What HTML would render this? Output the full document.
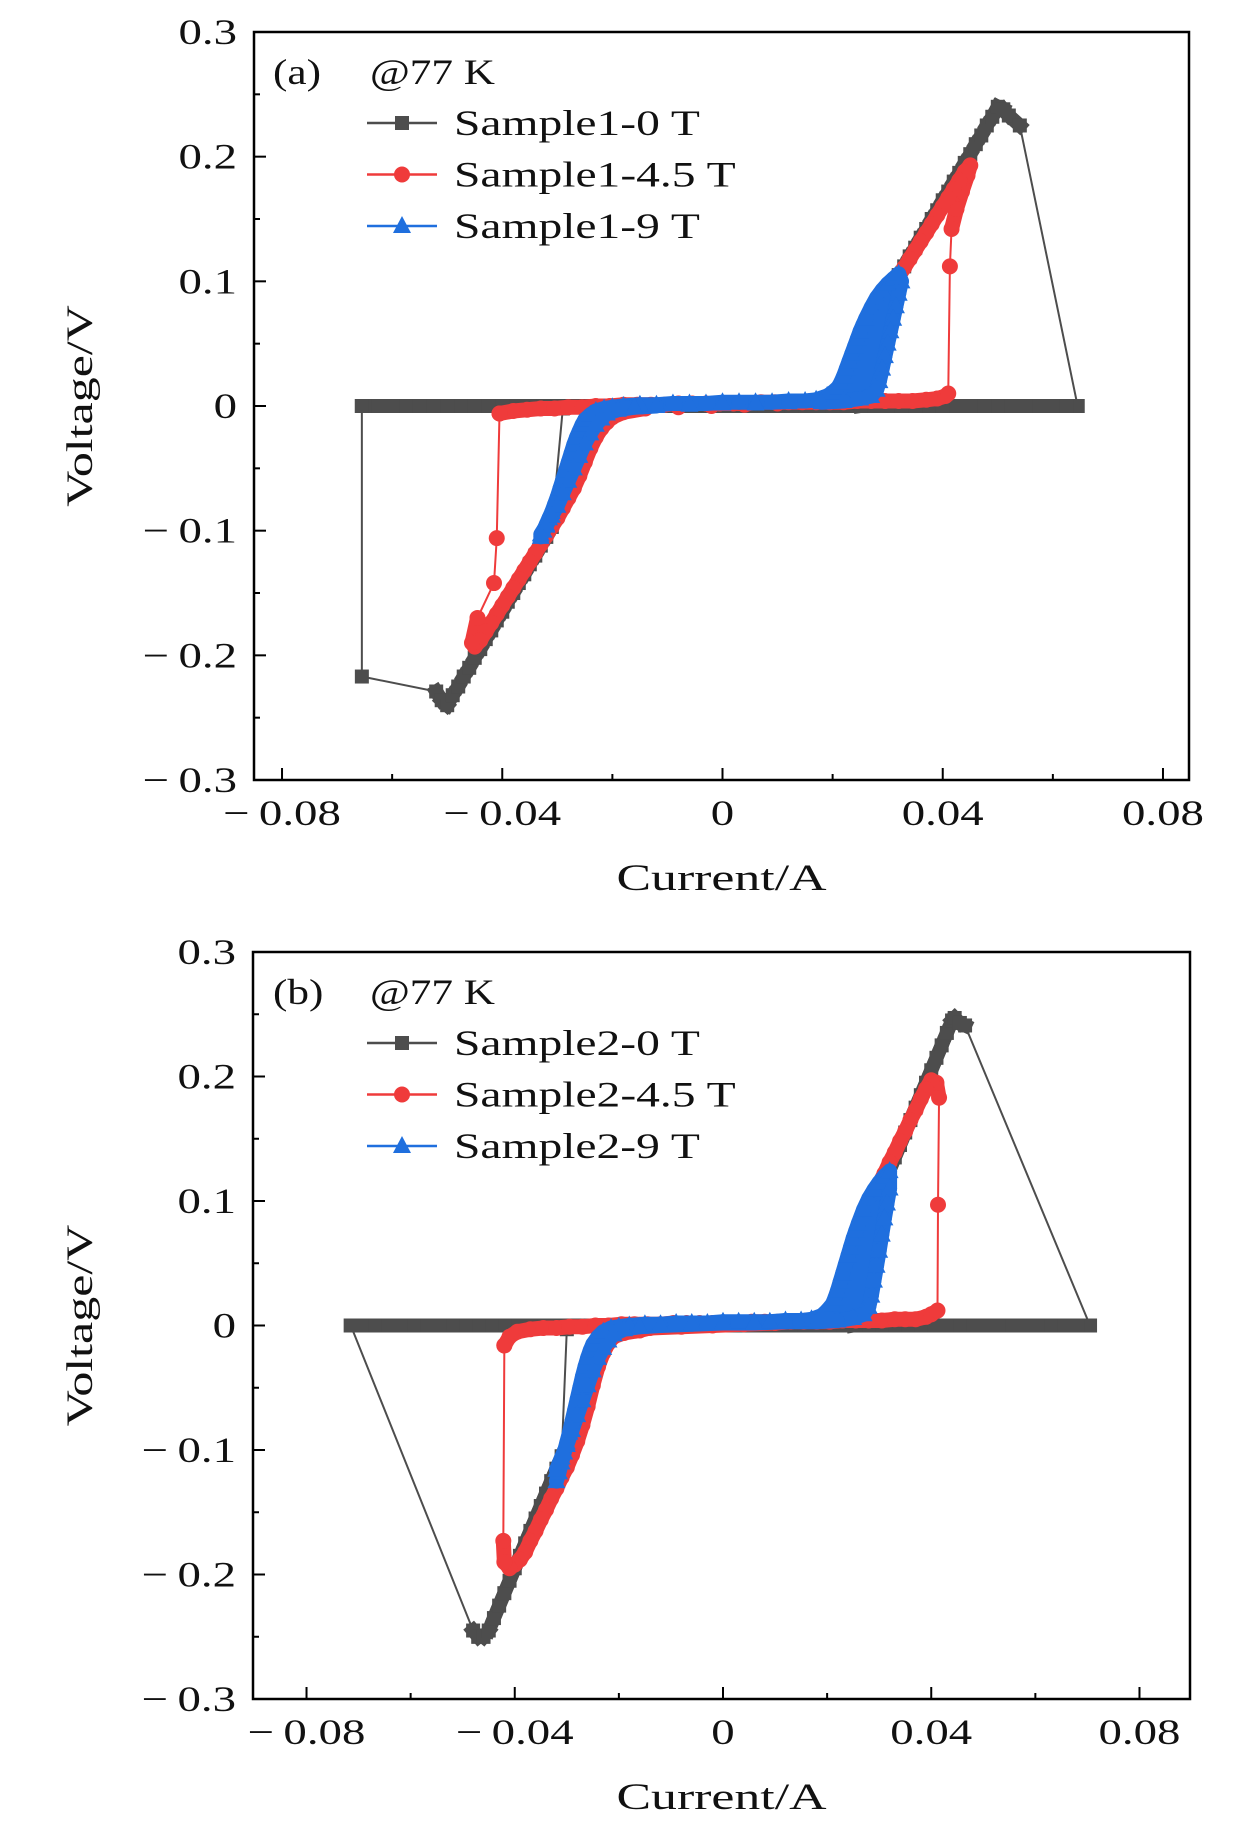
<!DOCTYPE html>
<html><head><meta charset="utf-8"><style>
html,body{margin:0;padding:0;background:#fff}
svg{display:block}
text{font-family:"Liberation Serif",serif;fill:#111}
</style></head><body>
<svg id="chart" width="1260" height="1827" viewBox="0 0 1260 1827" xmlns="http://www.w3.org/2000/svg"></svg>
<script>
const xTicks=[-0.08,-0.04,0,0.04,0.08];
const xTickLabels=["\u2212\u20090.08","\u2212\u20090.04","0","0.04","0.08"];
const xMinor=[-0.06,-0.02,0.02,0.06];
const yTicks=[-0.3,-0.2,-0.1,0,0.1,0.2,0.3];
const yTickLabels=["\u2212\u20090.3","\u2212\u20090.2","\u2212\u20090.1","0","0.1","0.2","0.3"];
const yMinor=[-0.25,-0.15,-0.05,0.05,0.15,0.25];
const legendA=["Sample1-0 T","Sample1-4.5 T","Sample1-9 T"];
const legendB=["Sample2-0 T","Sample2-4.5 T","Sample2-9 T"];

const s1_0T=[[-0.029,0],[-0.025,0],[-0.02,0],[-0.015,0],[-0.01,0],[-0.005,0],[0,0],[0.005,0],[0.01,0],[0.015,0],[0.02,0],[0.025,0],[0.028,0.002],
[0.030,0.09],[0.031,0.097],[0.032,0.105],[0.033,0.112],[0.034,0.12],[0.035,0.127],[0.036,0.135],[0.037,0.142],[0.038,0.15],[0.039,0.157],[0.040,0.165],[0.041,0.172],[0.042,0.18],[0.043,0.187],[0.044,0.195],[0.045,0.202],[0.046,0.21],[0.047,0.217],[0.048,0.225],[0.049,0.232],[0.050,0.24],[0.051,0.238],[0.052,0.233],[0.054,0.225],[0.0645,0],
[0.0625,0],[0.06,0],[0.0575,0],[0.055,0],[0.0525,0],[0.05,0],[0.0475,0],[0.045,0],[0.0425,0],[0.04,0],[0.0375,0],[0.035,0],[0.0325,0],[0.03,0],[0.0275,0],[0.025,0],[0.0225,0],[0.02,0],[0.0175,0],[0.015,0],[0.0125,0],[0.01,0],[0.0075,0],[0.005,0],[0.0025,0],[0,0],[-0.0025,0],[-0.005,0],[-0.0075,0],[-0.01,0],[-0.0125,0],[-0.015,0],[-0.0175,0],[-0.02,0],[-0.0225,0],[-0.025,0],[-0.0275,0],[-0.03,0],[-0.0325,0],[-0.035,0],[-0.0375,0],[-0.04,0],[-0.0425,0],[-0.045,0],[-0.0475,0],[-0.05,0],[-0.0525,0],[-0.055,0],[-0.0575,0],[-0.06,0],[-0.0625,0],[-0.0655,0],
[-0.0655,-0.217],[-0.052,-0.229],[-0.051,-0.236],[-0.050,-0.24],[-0.049,-0.232],[-0.048,-0.225],[-0.047,-0.217],[-0.046,-0.21],[-0.045,-0.202],[-0.044,-0.195],[-0.043,-0.187],[-0.042,-0.18],[-0.041,-0.172],[-0.040,-0.165],[-0.039,-0.157],[-0.038,-0.15],[-0.037,-0.142],[-0.036,-0.135],[-0.035,-0.127],[-0.034,-0.12],[-0.033,-0.112],[-0.032,-0.105],[-0.031,-0.097],[-0.029,-0.002]];

const s1_45T=[[-0.0405,-0.006],[-0.038,-0.004],[-0.0355,-0.003],[-0.033,-0.002],[-0.0305,-0.002],[-0.028,-0.001],[-0.0255,-0.001],[-0.023,0],[-0.0205,0],[-0.018,0.001],[-0.0155,0.001],[-0.013,0.001],[-0.0105,0.001],[-0.008,0.002],[-0.0055,0.002],[-0.003,0.002],[-0.0005,0.002],[0.002,0.002],[0.0045,0.002],[0.007,0.003],[0.0095,0.003],[0.012,0.003],[0.0145,0.003],[0.017,0.003],[0.0195,0.003],[0.022,0.003],[0.0245,0.004],[0.027,0.004],[0.0295,0.004],[0.032,0.004],[0.0345,0.004],[0.037,0.005],[0.039,0.006],[0.0405,0.008],[0.041,0.01],[0.0413,0.112],[0.0416,0.142],[0.0425,0.158],[0.0435,0.172],[0.0445,0.185],[0.045,0.193],
[0.044,0.188],[0.043,0.181],[0.042,0.174],[0.041,0.167],[0.040,0.16],[0.039,0.153],[0.038,0.146],[0.037,0.139],[0.036,0.132],[0.035,0.125],[0.034,0.118],[0.033,0.111],[0.032,0.104],[0.031,0.097],[0.030,0.09],[0.029,0.082],[0.028,0.074],[0.027,0.066],[0.026,0.056],[0.025,0.045],[0.024,0.034],[0.023,0.024],[0.022,0.016],[0.021,0.01],[0.019,0.006],[0.016,0.004],[0.01,0.002],[0.004,0.001],[-0.002,0],[-0.008,-0.001],[-0.014,-0.002],[-0.018,-0.005],[-0.020,-0.009],[-0.021,-0.013],[-0.022,-0.018],[-0.023,-0.025],[-0.024,-0.034],[-0.025,-0.045],[-0.026,-0.056],[-0.027,-0.066],[-0.028,-0.074],[-0.029,-0.082],[-0.030,-0.09],[-0.031,-0.097],[-0.032,-0.104],[-0.033,-0.111],[-0.034,-0.118],[-0.035,-0.125],[-0.036,-0.132],[-0.037,-0.139],[-0.038,-0.146],[-0.039,-0.153],[-0.040,-0.16],[-0.041,-0.167],[-0.042,-0.174],[-0.043,-0.181],[-0.044,-0.188],[-0.045,-0.193],[-0.0455,-0.19],[-0.0445,-0.17],[-0.0415,-0.142],[-0.041,-0.106],[-0.0405,-0.006]];

const s1_9T=[[-0.033,-0.105],[-0.0325,-0.1],[-0.032,-0.095],[-0.0315,-0.09],[-0.031,-0.085],[-0.0305,-0.079],[-0.030,-0.073],[-0.0295,-0.066],[-0.029,-0.059],[-0.0285,-0.052],[-0.028,-0.045],[-0.0275,-0.038],[-0.027,-0.031],[-0.0265,-0.025],[-0.026,-0.02],[-0.0255,-0.015],[-0.025,-0.011],[-0.024,-0.007],[-0.023,-0.004],[-0.0215,-0.002],[-0.02,-0.001],[-0.018,0],[-0.015,0.001],[-0.012,0.001],[-0.009,0.002],[-0.006,0.002],[-0.003,0.002],[0,0.003],[0.003,0.003],[0.006,0.003],[0.009,0.003],[0.012,0.004],[0.015,0.004],[0.017,0.005],[0.019,0.008],[0.020,0.011],[0.021,0.015],[0.0215,0.019],[0.022,0.024],[0.0225,0.03],[0.023,0.036],[0.0235,0.042],[0.024,0.048],[0.0245,0.054],[0.025,0.06],[0.0255,0.065],[0.026,0.07],[0.027,0.079],[0.028,0.087],[0.029,0.093],[0.030,0.098],[0.031,0.102],[0.032,0.106],
[0.0325,0.1],[0.032,0.09],[0.0315,0.08],[0.031,0.07],[0.0305,0.06],[0.030,0.05],[0.0295,0.04],[0.029,0.03],[0.0285,0.02],[0.028,0.013],[0.027,0.008],[0.025,0.006],[0.022,0.004],[0.018,0.003],[0.012,0.003],[0.006,0.002],[0,0.002],[-0.006,0.001],[-0.012,0],[-0.016,-0.001],[-0.019,-0.003],[-0.021,-0.006],[-0.022,-0.01],[-0.023,-0.015],[-0.024,-0.022],[-0.025,-0.03],[-0.026,-0.04],[-0.027,-0.05],[-0.028,-0.06],[-0.029,-0.07],[-0.030,-0.08],[-0.031,-0.088],[-0.032,-0.096],[-0.033,-0.103]];

const s2_0T=[[-0.030,0],[-0.025,0],[-0.02,0],[-0.015,0],[-0.01,0],[-0.005,0],[0,0],[0.005,0],[0.01,0],[0.015,0],[0.02,0],[0.025,0],[0.029,0.003],
[0.030,0.105],[0.031,0.115],[0.032,0.125],[0.033,0.135],[0.034,0.145],[0.035,0.155],[0.036,0.165],[0.037,0.175],[0.038,0.185],[0.039,0.195],[0.040,0.205],[0.041,0.215],[0.042,0.225],[0.043,0.235],[0.044,0.245],[0.0445,0.247],[0.0455,0.243],[0.0465,0.241],[0.0705,0],
[0.068,0],[0.0655,0],[0.063,0],[0.0605,0],[0.058,0],[0.0555,0],[0.053,0],[0.0505,0],[0.048,0],[0.0455,0],[0.043,0],[0.0405,0],[0.038,0],[0.0355,0],[0.033,0],[0.0305,0],[0.028,0],[0.0255,0],[0.023,0],[0.0205,0],[0.018,0],[0.0155,0],[0.013,0],[0.0105,0],[0.008,0],[0.0055,0],[0.003,0],[0.0005,0],[-0.002,0],[-0.0045,0],[-0.007,0],[-0.0095,0],[-0.012,0],[-0.0145,0],[-0.017,0],[-0.0195,0],[-0.022,0],[-0.0245,0],[-0.027,0],[-0.0295,0],[-0.032,0],[-0.0345,0],[-0.037,0],[-0.0395,0],[-0.042,0],[-0.0445,0],[-0.047,0],[-0.0495,0],[-0.052,0],[-0.0545,0],[-0.057,0],[-0.0595,0],[-0.062,0],[-0.0645,0],[-0.067,0],[-0.0695,0],[-0.0715,0],
[-0.048,-0.245],[-0.047,-0.25],[-0.046,-0.25],[-0.045,-0.245],[-0.044,-0.235],[-0.043,-0.225],[-0.042,-0.215],[-0.041,-0.205],[-0.040,-0.195],[-0.039,-0.185],[-0.038,-0.175],[-0.037,-0.165],[-0.036,-0.155],[-0.035,-0.145],[-0.034,-0.135],[-0.033,-0.125],[-0.032,-0.115],[-0.031,-0.105],[-0.030,-0.003]];

const s2_45T=[[-0.042,-0.016],[-0.041,-0.009],[-0.0395,-0.005],[-0.037,-0.003],[-0.0345,-0.002],[-0.032,-0.002],[-0.0295,-0.001],[-0.027,-0.001],[-0.0245,0],[-0.022,0],[-0.0195,0.001],[-0.017,0.001],[-0.0145,0.001],[-0.012,0.001],[-0.0095,0.002],[-0.007,0.002],[-0.0045,0.002],[-0.002,0.002],[0.0005,0.002],[0.003,0.002],[0.0055,0.003],[0.008,0.003],[0.0105,0.003],[0.013,0.003],[0.0155,0.003],[0.018,0.003],[0.0205,0.003],[0.023,0.004],[0.0255,0.004],[0.028,0.004],[0.0305,0.004],[0.033,0.005],[0.035,0.005],[0.037,0.005],[0.039,0.007],[0.040,0.009],[0.0412,0.012],[0.0413,0.097],[0.0415,0.183],[0.041,0.195],[0.040,0.197],[0.039,0.19],
[0.038,0.182],[0.037,0.173],[0.036,0.165],[0.035,0.156],[0.034,0.148],[0.033,0.139],[0.032,0.131],[0.031,0.122],[0.030,0.114],[0.029,0.104],[0.028,0.093],[0.027,0.08],[0.026,0.065],[0.025,0.048],[0.024,0.033],[0.023,0.022],[0.022,0.014],[0.021,0.009],[0.019,0.006],[0.016,0.004],[0.01,0.002],[0.004,0.001],[-0.002,0],[-0.008,-0.001],[-0.014,-0.002],[-0.016,-0.004],[-0.019,-0.006],[-0.021,-0.009],[-0.022,-0.014],[-0.023,-0.022],[-0.024,-0.033],[-0.025,-0.048],[-0.026,-0.065],[-0.027,-0.08],[-0.028,-0.093],[-0.029,-0.104],[-0.030,-0.114],[-0.031,-0.122],[-0.032,-0.131],[-0.033,-0.139],[-0.034,-0.148],[-0.035,-0.156],[-0.036,-0.165],[-0.037,-0.173],[-0.038,-0.182],[-0.039,-0.188],[-0.040,-0.192],[-0.041,-0.195],[-0.042,-0.19],[-0.0422,-0.173],[-0.042,-0.016]];

const s2_9T=[[-0.032,-0.125],[-0.0315,-0.118],[-0.031,-0.11],[-0.0305,-0.102],[-0.030,-0.094],[-0.0295,-0.086],[-0.029,-0.077],[-0.0285,-0.068],[-0.028,-0.059],[-0.0275,-0.05],[-0.027,-0.041],[-0.0265,-0.033],[-0.026,-0.026],[-0.0255,-0.02],[-0.025,-0.015],[-0.024,-0.009],[-0.023,-0.005],[-0.0215,-0.002],[-0.02,-0.001],[-0.018,0],[-0.015,0.001],[-0.012,0.001],[-0.009,0.002],[-0.006,0.002],[-0.003,0.002],[0,0.003],[0.003,0.003],[0.006,0.003],[0.009,0.003],[0.012,0.004],[0.015,0.004],[0.017,0.005],[0.019,0.008],[0.020,0.012],[0.021,0.017],[0.0215,0.022],[0.022,0.028],[0.0225,0.035],[0.023,0.042],[0.0235,0.049],[0.024,0.056],[0.0245,0.063],[0.025,0.07],[0.0255,0.076],[0.026,0.082],[0.027,0.093],[0.028,0.102],[0.029,0.109],[0.030,0.115],[0.031,0.12],[0.032,0.124],
[0.032,0.11],[0.0315,0.098],[0.031,0.086],[0.0305,0.073],[0.030,0.06],[0.0295,0.048],[0.029,0.036],[0.0285,0.024],[0.028,0.015],[0.027,0.009],[0.025,0.006],[0.022,0.004],[0.018,0.003],[0.012,0.003],[0.006,0.002],[0,0.002],[-0.006,0.001],[-0.012,0],[-0.016,-0.001],[-0.019,-0.003],[-0.021,-0.007],[-0.022,-0.012],[-0.023,-0.018],[-0.024,-0.026],[-0.025,-0.036],[-0.026,-0.048],[-0.027,-0.06],[-0.028,-0.072],[-0.029,-0.084],[-0.030,-0.096],[-0.031,-0.106],[-0.032,-0.116]];

const NS="http://www.w3.org/2000/svg";
const svg=document.getElementById('chart');
function mk(tag,attrs,parent){const e=document.createElementNS(NS,tag);for(const k in attrs)e.setAttribute(k,attrs[k]);(parent||svg).appendChild(e);return e;}
function widen(el,f){const w=el.getComputedTextLength();el.setAttribute('textLength',(w*f).toFixed(1));el.setAttribute('lengthAdjust','spacingAndGlyphs');}

const COLORS={black:'#4d4d4d',red:'#ef3b3b',blue:'#1f6fde'};
const BAND={sq:14,ci:15,tr:15};
function marker(kind,color,x,y,g,name){
  let e;
  if(kind==='sq'){e=mk('rect',{x:x-7,y:y-7,width:14,height:14,fill:color},g);}
  else if(kind==='ci'){e=mk('circle',{cx:x,cy:y,r:8,fill:color},g);}
  else {e=mk('polygon',{points:`${x},${y-10} ${x+9},${y+7} ${x-9},${y+7}`,fill:color},g);}
  
  
  return e;
}

function panel(p){
  const X=v=>p.x0+v*p.xs, Y=v=>p.y0-v*p.ys;
  const g=mk('g',{});
  
  
  p.series.forEach(s=>{
    const sg=mk('g',{},g);
    
    
    if(s.fill){
      const f=mk('polygon',{points:s.data.map(d=>X(d[0])+','+Y(d[1])).join(' '),fill:s.color,stroke:'none'},sg);
      
      
    }
    const pl=mk('polyline',{points:s.data.map(d=>X(d[0])+','+Y(d[1])).join(' '),fill:'none',stroke:s.color,'stroke-width':2},sg);
    
    
    for(let i=1;i<s.data.length;i++){
      const x1=X(s.data[i-1][0]),y1=Y(s.data[i-1][1]),x2=X(s.data[i][0]),y2=Y(s.data[i][1]);
      if(Math.hypot(x2-x1,y2-y1)<32){
        const b=mk('line',{x1:x1,y1:y1,x2:x2,y2:y2,stroke:s.color,'stroke-width':BAND[s.kind],'stroke-linecap':s.kind==='sq'?'square':'round'},sg);
        
        
      }
    }
    s.data.forEach(d=>marker(s.kind,s.color,X(d[0]),Y(d[1]),sg,s.name+'-point'));
  });
  const fr=mk('rect',{x:p.L,y:p.T,width:p.R-p.L,height:p.B-p.T,fill:'none',stroke:'#000','stroke-width':2.5},g);
  
  
  xTicks.forEach((v,i)=>{
    const t=mk('line',{x1:X(v),x2:X(v),y1:p.B,y2:p.B-12,stroke:'#000','stroke-width':2},g);
    
    
    const l=mk('text',{x:X(v),y:p.B+45,'text-anchor':'middle','font-size':36},g);
    l.textContent=xTickLabels[i];
    
    
    widen(l,1.3);
  });
  xMinor.forEach(v=>{
    const t=mk('line',{x1:X(v),x2:X(v),y1:p.B,y2:p.B-6,stroke:'#000','stroke-width':2},g);
    
    
  });
  yTicks.forEach((v,i)=>{
    const t=mk('line',{x1:p.L,x2:p.L+12,y1:Y(v),y2:Y(v),stroke:'#000','stroke-width':2},g);
    
    
    const l=mk('text',{x:p.L-17,y:Y(v)+12,'text-anchor':'end','font-size':36},g);
    l.textContent=yTickLabels[i];
    
    
    widen(l,1.3);
  });
  yMinor.forEach(v=>{
    const t=mk('line',{x1:p.L,x2:p.L+6,y1:Y(v),y2:Y(v),stroke:'#000','stroke-width':2},g);
    
    
  });
  const xt=mk('text',{x:(p.L+p.R)/2,y:p.B+110,'text-anchor':'middle','font-size':37},g);
  xt.textContent='Current/A';
  
  
  widen(xt,1.4);
  const cy=(p.T+p.B)/2;
  const yt=mk('text',{x:92,y:cy,'text-anchor':'middle','font-size':37,transform:`rotate(-90 92 ${cy})`},g);
  yt.textContent='Voltage/V';
  
  
  widen(yt,1.35);
  const a1=mk('text',{x:273,y:p.T+52,'font-size':36},g);
  a1.textContent=p.label;
  
  
  widen(a1,1.2);
  const a2=mk('text',{x:370,y:p.T+52,'font-size':36},g);
  a2.textContent='@77 K';
  
  
  widen(a2,1.2);
  p.series.forEach((s,i)=>{
    const ly=p.T+91+i*51.5;
    const lg=mk('g',{},g);
    
    
    mk('line',{x1:367,x2:437,y1:ly,y2:ly,stroke:s.color,'stroke-width':2.5},lg);
    marker(s.kind,s.color,402,ly,lg,'legend-marker');
    const t=mk('text',{x:454,y:ly+12,'font-size':36},lg);
    t.textContent=p.legend[i];
    
    
    widen(t,1.32);
  });
}

panel({id:'a',label:'(a)',L:254,R:1189,T:32,B:780,x0:722.5,xs:5506,y0:406,ys:1246.7,legend:legendA,
  series:[{name:'sample1-0T',data:s1_0T,color:COLORS.black,kind:'sq'},{name:'sample1-4.5T',data:s1_45T,color:COLORS.red,kind:'ci'},{name:'sample1-9T',data:s1_9T,color:COLORS.blue,kind:'tr',fill:true}]});
panel({id:'b',label:'(b)',L:253,R:1190,T:952,B:1699,x0:723,xs:5206,y0:1325.5,ys:1245,legend:legendB,
  series:[{name:'sample2-0T',data:s2_0T,color:COLORS.black,kind:'sq'},{name:'sample2-4.5T',data:s2_45T,color:COLORS.red,kind:'ci'},{name:'sample2-9T',data:s2_9T,color:COLORS.blue,kind:'tr',fill:true}]});
</script>
</body></html>
